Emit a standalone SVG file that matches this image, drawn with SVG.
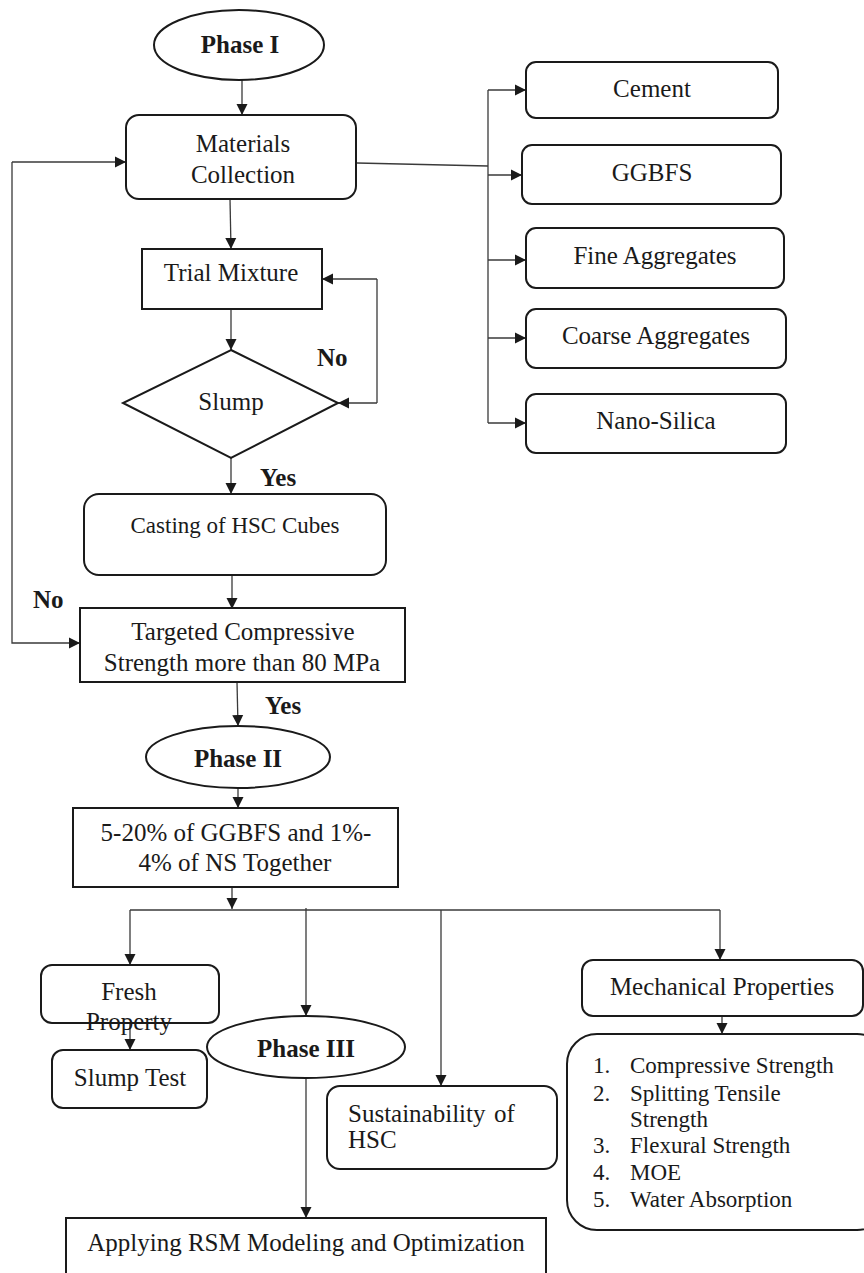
<svg xmlns="http://www.w3.org/2000/svg" width="864" height="1273" viewBox="0 0 864 1273">
<defs>
<marker id="ah" markerUnits="userSpaceOnUse" markerWidth="12" markerHeight="12" refX="11" refY="6" orient="auto">
<path d="M0,0.5 L11,6 L0,11.5 z" fill="#1a1a1a"/>
</marker>
<style>
.box{fill:#fff;stroke:#1a1a1a;stroke-width:2}
.t{font-family:"Liberation Serif","Times New Roman",serif;font-size:25px;fill:#1a1a1a}
.c{text-anchor:middle}
.b{font-weight:bold}
.s{font-size:23px}
.ln{fill:none;stroke:#3a3a3a;stroke-width:1.3}
.ar{fill:none;stroke:#3a3a3a;stroke-width:1.3;marker-end:url(#ah)}
</style>
</defs>
<rect width="864" height="1273" fill="#fff"/>

<g id="connectors">
<line class="ar" x1="242" y1="80" x2="242" y2="115"/>
<polyline class="ln" points="357,163 488,166"/>
<line class="ln" x1="488" y1="90" x2="488" y2="423"/>
<line class="ar" x1="488" y1="90" x2="526" y2="90"/>
<line class="ar" x1="488" y1="175" x2="522" y2="175"/>
<line class="ar" x1="488" y1="260" x2="526" y2="260"/>
<line class="ar" x1="488" y1="338" x2="526" y2="338"/>
<line class="ar" x1="488" y1="423" x2="526" y2="423"/>
<line class="ar" x1="230" y1="199" x2="231" y2="249"/>
<line class="ar" x1="231" y1="309" x2="231" y2="350"/>
<line class="ln" x1="377" y1="279" x2="377" y2="403"/>
<line class="ar" x1="377" y1="279" x2="322" y2="279"/>
<line class="ar" x1="377" y1="403" x2="338" y2="403"/>
<line class="ar" x1="231" y1="458" x2="231" y2="494"/>
<line class="ar" x1="232" y1="575" x2="232" y2="609"/>
<polyline class="ar" points="12,162 12,643 80,643"/>
<line class="ar" x1="12" y1="162" x2="126" y2="162"/>
<line class="ar" x1="237" y1="682" x2="238" y2="726"/>
<line class="ar" x1="238" y1="788" x2="238" y2="808"/>
<line class="ar" x1="232" y1="887" x2="232" y2="909"/>
<line class="ln" x1="130" y1="910" x2="720" y2="910"/>
<line class="ar" x1="130" y1="910" x2="130" y2="965"/>
<line class="ar" x1="306" y1="908" x2="306" y2="1016"/>
<line class="ar" x1="441" y1="910" x2="441" y2="1086"/>
<line class="ar" x1="720" y1="910" x2="720" y2="960"/>
<line class="ar" x1="130" y1="1023" x2="130" y2="1050"/>
<line class="ar" x1="306" y1="1078" x2="306" y2="1218"/>
<line class="ar" x1="722" y1="1016" x2="722" y2="1034"/>
</g>

<g id="phase1">
<ellipse class="box" cx="239" cy="45" rx="85" ry="35"/>
<text class="t c b" x="240" y="53">Phase I</text>
</g>
<g id="materials">
<rect class="box" x="126" y="115" width="230" height="84" rx="13"/>
<text class="t c" x="243" y="152">Materials</text>
<text class="t c" x="243" y="183">Collection</text>
</g>
<g id="cement">
<rect class="box" x="526" y="62" width="252" height="56" rx="10"/>
<text class="t c" x="652" y="97">Cement</text>
</g>
<g id="ggbfs">
<rect class="box" x="522" y="145" width="259" height="59" rx="10"/>
<text class="t c" x="652" y="181">GGBFS</text>
</g>
<g id="fine">
<rect class="box" x="526" y="228" width="258" height="60" rx="10"/>
<text class="t c" x="655" y="264">Fine Aggregates</text>
</g>
<g id="coarse">
<rect class="box" x="526" y="309" width="260" height="59" rx="10"/>
<text class="t c" x="656" y="344">Coarse Aggregates</text>
</g>
<g id="nano">
<rect class="box" x="526" y="394" width="260" height="59" rx="10"/>
<text class="t c" x="656" y="429">Nano-Silica</text>
</g>
<g id="trial">
<rect class="box" x="142" y="249" width="180" height="60"/>
<text class="t c" x="231" y="281">Trial Mixture</text>
</g>
<g id="slump">
<polygon class="box" points="231,350 338,403 231,458 123,403"/>
<text class="t c" x="231" y="410">Slump</text>
</g>
<text class="t b" x="317" y="366">No</text>
<text class="t b" x="260" y="486">Yes</text>
<g id="casting">
<rect class="box" x="84" y="494" width="302" height="81" rx="15"/>
<text class="t c s" x="235" y="533">Casting of HSC Cubes</text>
</g>
<text class="t b" x="33" y="608">No</text>
<g id="targeted">
<rect class="box" x="80" y="608" width="325" height="74"/>
<text class="t c" x="243" y="640">Targeted Compressive</text>
<text class="t c" x="242" y="671">Strength more than 80 MPa</text>
</g>
<text class="t b" x="265" y="714">Yes</text>
<g id="phase2">
<ellipse class="box" cx="238" cy="757" rx="92" ry="31"/>
<text class="t c b" x="238" y="767">Phase II</text>
</g>
<g id="mix">
<rect class="box" x="73" y="808" width="325" height="79"/>
<text class="t c" x="236" y="841">5-20% of GGBFS and 1%-</text>
<text class="t c" x="235" y="871">4% of NS Together</text>
</g>
<g id="fresh">
<rect class="box" x="41" y="965" width="178" height="58" rx="11"/>
<text class="t c" x="129" y="1000">Fresh</text>
<text class="t c" x="129" y="1030">Property</text>
</g>
<g id="slumptest">
<rect class="box" x="52" y="1050" width="155" height="58" rx="11"/>
<text class="t c" x="130" y="1086">Slump Test</text>
</g>
<g id="phase3">
<ellipse class="box" cx="306" cy="1047" rx="99" ry="31"/>
<text class="t c b" x="306" y="1057">Phase III</text>
</g>
<g id="sustain">
<rect class="box" x="327" y="1086" width="230" height="83" rx="13"/>
<text class="t" x="348" y="1122">Sustainability</text>
<text class="t" x="494" y="1122">of</text>
<text class="t" x="348" y="1148">HSC</text>
</g>
<g id="mechanical">
<rect class="box" x="582" y="960" width="281" height="56" rx="11"/>
<text class="t c" x="722" y="995">Mechanical Properties</text>
</g>
<g id="list">
<rect class="box" x="567" y="1034" width="320" height="196" rx="30"/>
<text class="t s" x="593" y="1073">1.</text><text class="t s" x="630" y="1073">Compressive Strength</text>
<text class="t s" x="593" y="1101">2.</text><text class="t s" x="630" y="1101">Splitting Tensile</text>
<text class="t s" x="630" y="1127">Strength</text>
<text class="t s" x="593" y="1153">3.</text><text class="t s" x="630" y="1153">Flexural Strength</text>
<text class="t s" x="593" y="1180">4.</text><text class="t s" x="630" y="1180">MOE</text>
<text class="t s" x="593" y="1207">5.</text><text class="t s" x="630" y="1207">Water Absorption</text>
</g>
<g id="rsm">
<rect class="box" x="66" y="1218" width="480" height="70"/>
<text class="t c" x="306" y="1251">Applying RSM Modeling and Optimization</text>
</g>
</svg>
